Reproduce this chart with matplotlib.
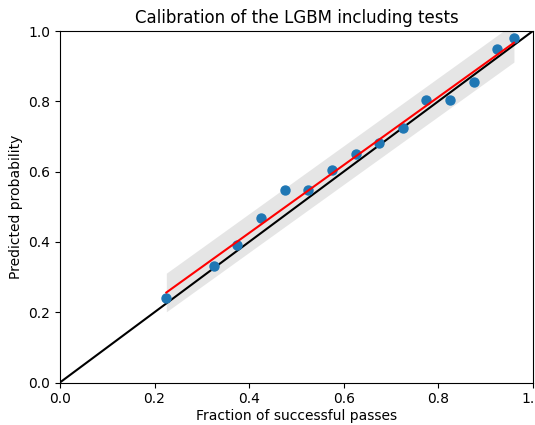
import numpy as np
import matplotlib
matplotlib.use('Agg')
import matplotlib.pyplot as plt

# fraction of successful passes per bin vs mean predicted probability
frac_pass = [0.225, 0.325, 0.375, 0.425, 0.475, 0.525, 0.575, 0.625,
             0.675, 0.725, 0.775, 0.825, 0.875, 0.925, 0.96]
pred_prob = [0.241, 0.331, 0.391, 0.467, 0.547, 0.547, 0.606, 0.649,
             0.680, 0.725, 0.805, 0.805, 0.856, 0.949, 0.980]

x = np.array(frac_pass)
y = np.array(pred_prob)

# linear fit with a band around it
slope, intercept = np.polyfit(x, y, 1)
xs = np.linspace(x.min(), x.max(), 100)
fit = slope * xs + intercept
band = 0.055

fig = plt.figure(figsize=(5.35, 4.25), dpi=100)
ax = fig.add_axes([0.112, 0.1, 0.884, 0.827])

ax.fill_between(xs, fit - band, fit + band, color='gray', alpha=0.2, linewidth=0)
ax.scatter(x, y, s=42, color='#1f77b4', zorder=3)
ax.plot(xs, fit, color='red', linewidth=1.5, zorder=4)
ax.plot([0, 1], [0, 1], color='black', linewidth=1.5, zorder=2)

ax.set_xlim(0, 1)
ax.set_ylim(0, 1)
ax.set_xlabel('Fraction of successful passes', labelpad=2)
ax.set_ylabel('Predicted probability')
ax.set_title('Calibration of the LGBM including tests')

fig.savefig('out.png', dpi=100)
